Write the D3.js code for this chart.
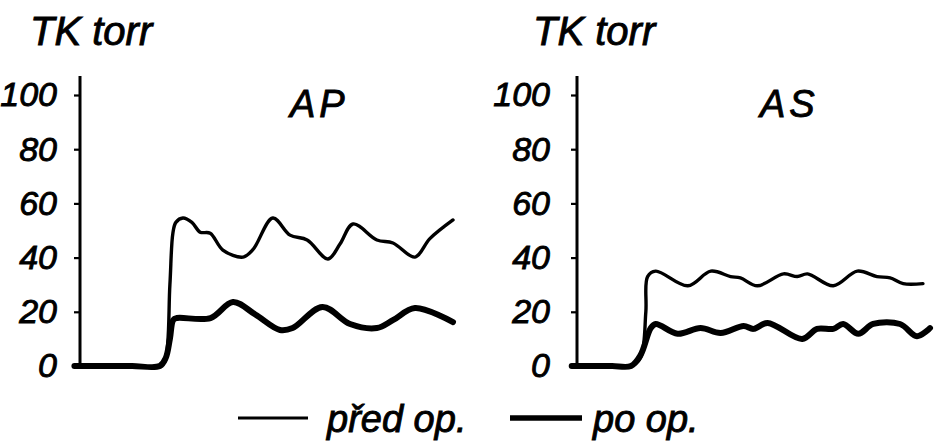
<!DOCTYPE html>
<html>
<head>
<meta charset="utf-8">
<script src="https://cdn.jsdelivr.net/npm/d3@7"></script>
<style>
  body { margin: 0; background: #fff; }
  text { font-family: "Liberation Sans", Arial, sans-serif; font-style: italic; fill: #000; stroke: #000; stroke-width: 0.9px; }
</style>
</head>
<body>
<div id="chart"></div>
<script>
// data: [time (0-100), pressure torr]
let yTicks = [0, 20, 40, 60, 80, 100];

let apPred = [[-1.5,0],[7,0],[14,0],[21.4,0],[22.8,2],[24.1,30],[24.9,49],[25.7,53],[27.6,54.6],[30,53],[32.2,49.4],[34.9,49],
    [38.3,42.8],[43.7,40.2],[46.4,43],[51.7,54.6],[56.3,48.3],[60.9,46.5],[66.5,39.5],[69.7,45],[73.2,52.4],
    [79.6,46.5],[83.9,45.4],[89.8,40.2],[93.8,47],[100,53.9]];
let apPo = [[-1.5,0],[7,0],[14,0],[21.4,0],[23,3],[24.1,10],[25,17],[26,17.7],[35,17.7],[41,23.6],[47,19],[53.6,13.3],
    [57,14],[65,21.8],[72.4,15.5],[79.6,14],[84,17],[89.8,21.4],[100,16.2]];

let asPred = [[-1.5,0],[5,0],[10,0],[15.3,0],[18,3],[19.5,20],[20,33],[22.3,35],[31.4,29.6],[37.9,35],[43.5,33],[46.3,32.5],
    [51.1,29.6],[58.5,34],[62.4,33],[65.3,34],[72.6,29.6],[79.4,35],[85,33],[88.7,32.5],[92.4,30.4],[98,30.4]];
let asPo = [[-1.5,0],[5,0],[10,0],[15.3,0],[18,4],[20.9,14],[22.3,15.5],[28.5,11.9],[35,14],[40.7,12.2],[47.2,14.8],[50,13.7],
    [54,15.9],[63.8,10],[68,13.7],[72.6,13.7],[75.4,15.5],[79.7,11.9],[83.9,15.5],[91.5,15.5],[96.3,11],[100,14]];

let legendLabels = ["před op.", "po op."];

let svgwidth = 934;
let svgheight = 444;

let svg = d3.select("#chart")
    .append("svg")
    .attr("width", svgwidth)
    .attr("height", svgheight);

let yScale = d3.scaleLinear()
    .domain([0, 100])
    .range([366, 95]);

let panels = [
    { title: "AP", pred: apPred, po: apPo, x0: 80, x1: 453, pad: 17, unitX: 30, titleX: 290 },
    { title: "AS", pred: asPred, po: asPo, x0: 577, x1: 930, pad: 21, unitX: 533, titleX: 760 }
];

panels.forEach(function(p) {
    let xScale = d3.scaleLinear()
        .domain([0, 100])
        .range([p.x0, p.x1]);

    let g = svg.append("g");

    // y axis
    let leftAxis = d3.axisLeft(yScale)
        .tickValues(yTicks)
        .tickSize(6)
        .tickSizeOuter(0)
        .tickPadding(p.pad);

    let axisG = g.append("g")
        .attr("transform", `translate(${p.x0}, 0)`)
        .call(leftAxis);
    axisG.select(".domain").remove();
    axisG.selectAll(".tick line").attr("stroke", "#000").attr("stroke-width", 2.2);
    axisG.selectAll(".tick text")
        .style("font-size", "34px")
        .style("font-family", "'Liberation Sans', Arial, sans-serif")
        .style("font-style", "italic");

    g.append("line")
        .attr("x1", p.x0).attr("x2", p.x0)
        .attr("y1", yScale(0)).attr("y2", yScale(107))
        .attr("stroke", "#000")
        .attr("stroke-width", 3);

    let line = d3.line()
        .x(d => xScale(d[0]))
        .y(d => yScale(d[1]))
        .curve(d3.curveCatmullRom.alpha(0.5));

    g.append("path")
        .datum(p.po)
        .attr("d", line)
        .attr("fill", "none")
        .attr("stroke", "#000")
        .attr("stroke-width", 6)
        .attr("stroke-linejoin", "round")
        .attr("stroke-linecap", "round");

    g.append("path")
        .datum(p.pred)
        .attr("d", line)
        .attr("fill", "none")
        .attr("stroke", "#000")
        .attr("stroke-width", 3.4)
        .attr("stroke-linejoin", "round")
        .attr("stroke-linecap", "round");

    g.append("text")
        .attr("x", p.unitX)
        .attr("y", 45)
        .style("font-size", "40px")
        .text("TK torr");

    g.append("text")
        .attr("x", p.titleX)
        .attr("y", 117)
        .style("font-size", "38px")
        .style("letter-spacing", "4px")
        .text(p.title);
});

// legend
let legend = svg.append("g");
let legendItems = [
    { label: legendLabels[0], x1: 238, x2: 308, tx: 327, w: 3.2 },
    { label: legendLabels[1], x1: 510, x2: 582, tx: 593, w: 5.5 }
];
legendItems.forEach(function(l) {
    legend.append("line")
        .attr("x1", l.x1).attr("x2", l.x2)
        .attr("y1", 418).attr("y2", 418)
        .attr("stroke", "#000")
        .attr("stroke-width", l.w);
    legend.append("text")
        .attr("x", l.tx)
        .attr("y", 432)
        .style("font-size", "38px")
        .text(l.label);
});
</script>
</body>
</html>
